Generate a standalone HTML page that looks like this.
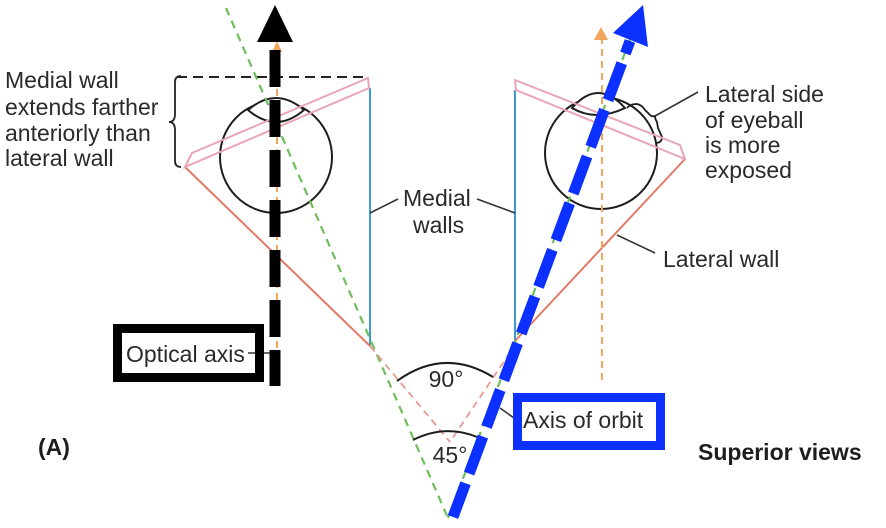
<!DOCTYPE html>
<html>
<head>
<meta charset="utf-8">
<style>
  html,body{margin:0;padding:0;background:#fff;}
  svg{display:block;}
  text{font-family:"Liberation Sans",Arial,sans-serif;font-size:23px;fill:#2a2a2a;}
  .b{font-weight:bold;fill:#1e1e1e;}
</style>
</head>
<body>
<svg width="886" height="528" viewBox="0 0 886 528" xmlns="http://www.w3.org/2000/svg">
  <rect x="0" y="0" width="886" height="528" fill="#fff"/>

  <!-- dashed black horizontal -->
  <line x1="177" y1="77" x2="368" y2="77" stroke="#222" stroke-width="2" stroke-dasharray="10 6"/>

  <!-- left brace -->
  <path d="M181,76 Q175,76 175,82 L175,114 Q175,122 169,122 Q175,122 175,130 L175,161 Q175,167 181,167" fill="none" stroke="#222" stroke-width="1.8"/>

  <!-- medial walls (blue) -->
  <line x1="370" y1="88" x2="370" y2="346" stroke="#3d9bd0" stroke-width="2"/>
  <line x1="515" y1="90" x2="515" y2="341" stroke="#3d9bd0" stroke-width="2"/>

  <!-- lateral walls (red) -->
  <line x1="185" y1="167" x2="370" y2="346" stroke="#e27a66" stroke-width="2"/>
  <line x1="685" y1="159" x2="515" y2="341" stroke="#e27a66" stroke-width="2"/>

  <!-- eyes -->
  <g fill="none" stroke="#1e1e1e" stroke-width="2">
    <circle cx="276" cy="157" r="56"/>
    <path d="M248,110 Q276,86 304,110 Q276,134 248,110 Z" fill="#fff"/>
    <circle cx="601" cy="153" r="56"/>
    <path d="M572,108 Q598,78 625,108 Q596,122 572,108 Z" fill="#fff"/>
    <path d="M627,108 Q630,104 637,104 Q642,105 645,110 L650,115 Q652,117 655,116 Q655,119 657,122 L658,128 L662,137 Q662,142 657,143" stroke-width="1.8"/>
  </g>

  <!-- pink walls -->
  <g fill="none" stroke="#e9a5b5" stroke-width="2">
    <path d="M368,78 L192,153 L185,167 L369,88 Z"/>
    <path d="M515,80 L680,145 L685,159 L516,90 Z"/>
  </g>

  <!-- green dashed axes -->
  <line x1="226" y1="8" x2="448" y2="518" stroke="#6cbf5a" stroke-width="2.2" stroke-dasharray="8 6"/>
  <line x1="448" y1="518" x2="642" y2="8" stroke="#6cbf5a" stroke-width="2.2" stroke-dasharray="8 6"/>

  <!-- orange dashed arrows -->
  <line x1="277" y1="384" x2="277" y2="50" stroke="#f2a65a" stroke-width="2" stroke-dasharray="7 5"/>
  <polygon points="277,41 272,52 282,52" fill="#f2a65a"/>
  <line x1="602" y1="380" x2="602" y2="38" stroke="#f2a65a" stroke-width="2" stroke-dasharray="7 5"/>
  <polygon points="601,27 594,40 608,40" fill="#f2a65a"/>

  <!-- pink dashed extensions -->
  <line x1="370" y1="346" x2="450" y2="442" stroke="#e89a90" stroke-width="1.8" stroke-dasharray="7 5"/>
  <line x1="517" y1="342" x2="450" y2="442" stroke="#e89a90" stroke-width="1.8" stroke-dasharray="7 5"/>

  <!-- angle arcs -->
  <path d="M397,381 Q444,347 493,377" fill="none" stroke="#1e1e1e" stroke-width="2"/>
  <path d="M413,440 Q445,424 477,437" fill="none" stroke="#1e1e1e" stroke-width="2"/>

  <!-- leader lines -->
  <g stroke="#333" stroke-width="1.6">
    <line x1="248" y1="353" x2="270" y2="353"/>
    <line x1="370" y1="213" x2="398" y2="199"/>
    <line x1="477" y1="199" x2="515" y2="213"/>
    <line x1="617" y1="235" x2="655" y2="253"/>
    <line x1="500" y1="408" x2="514" y2="418"/>
    <line x1="655" y1="116" x2="698" y2="92"/>
  </g>

  <!-- black thick dashed arrow -->
  <line x1="275" y1="50" x2="275" y2="386" stroke="#000" stroke-width="11" stroke-dasharray="37 13"/>
  <polygon points="275,5 257,42 293,42" fill="#000"/>

  <!-- blue thick dashed arrow -->
  <line x1="453" y1="517" x2="630" y2="41" stroke="#0b30ff" stroke-width="11" stroke-dasharray="39.5 10.3" stroke-dashoffset="3.5"/>
  <polygon points="643,5 613,33 648,47" fill="#0b30ff"/>

  <!-- boxes -->
  <rect x="117.5" y="328.5" width="142" height="49" fill="none" stroke="#000" stroke-width="9"/>
  <rect x="517.5" y="397.5" width="143" height="48" fill="none" stroke="#0b30ff" stroke-width="9"/>

  <!-- texts -->
  <text x="5" y="88">Medial wall</text>
  <text x="5" y="115">extends farther</text>
  <text x="5" y="141">anteriorly than</text>
  <text x="5" y="166">lateral wall</text>

  <text x="403" y="206">Medial</text>
  <text x="413" y="233">walls</text>

  <text x="705" y="102">Lateral side</text>
  <text x="705" y="128">of eyeball</text>
  <text x="705" y="153">is more</text>
  <text x="705" y="178">exposed</text>

  <text x="663" y="267">Lateral wall</text>
  <text x="126" y="362">Optical axis</text>
  <text x="523" y="428">Axis of orbit</text>

  <text x="446" y="387" text-anchor="middle">90°</text>
  <text x="450" y="463" text-anchor="middle">45°</text>

  <text class="b" x="38" y="455">(A)</text>
  <text class="b" x="698" y="460">Superior views</text>
</svg>
</body>
</html>
